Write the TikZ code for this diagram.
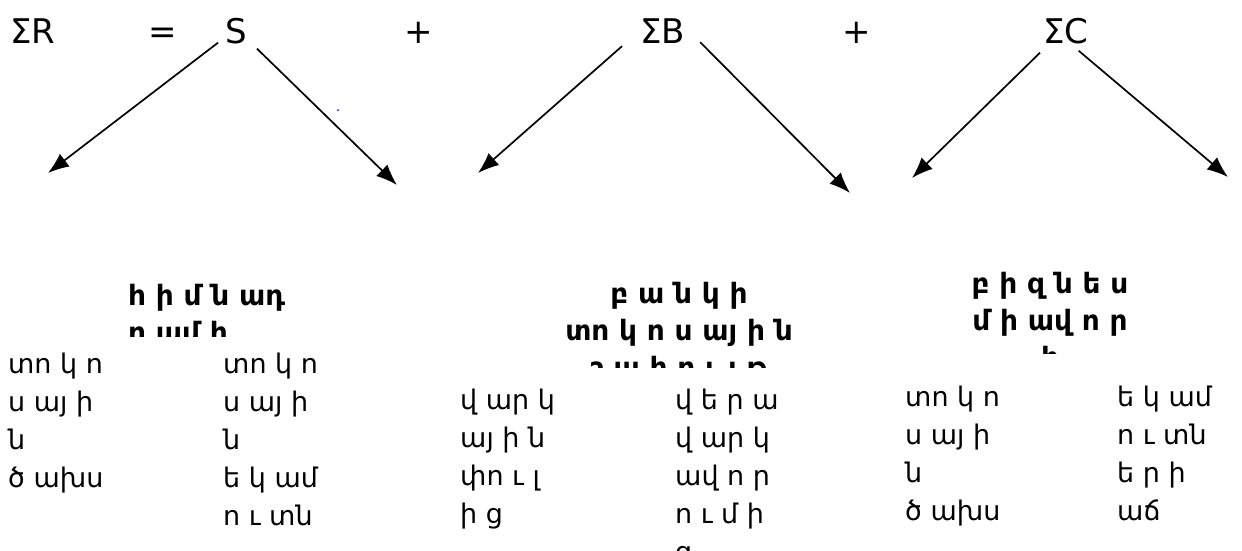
\documentclass[tikz,border=0pt]{standalone}
\usepackage{fontspec}
\setmainfont{DejaVu Sans}
\usetikzlibrary{arrows.meta}
\tikzset{
    sum/.style={font=\fontsize{34}{40}\selectfont, inner sep=0pt, anchor=base west},
    arr/.style={line width=1.7pt, -{Latex[length=21pt,width=16pt]}},
    word/.style={font=\fontsize{27}{38}\selectfont, inner sep=0pt, anchor=base west},
    head/.style={font=\bfseries\fontsize{28}{37}\selectfont, inner sep=0pt, anchor=base}
}
% stacked lines whose first baseline is the node's base
\newcommand{\leftlines}[1]{\vtop{\halign{##\hfil\cr#1\crcr}}}
\newcommand{\midlines}[1]{\vtop{\halign{\hfil##\hfil\cr#1\crcr}}}

\begin{document}
\begin{tikzpicture}[x=1pt,y=-1pt]
\useasboundingbox (0,0) rectangle (1242,550);

\node[sum] (sumR) at (10,43) {ΣR};
\node[sum] (eq) at (148,43) {=};
\node[sum] (S) at (225,43) {S};
\node[sum] (plusA) at (404,43) {+};
\node[sum] (sumB) at (640,43) {ΣB};
\node[sum] (plusB) at (842,43) {+};
\node[sum] (sumC) at (1043,43) {ΣC};

\coordinate (sL) at (48,173);
\coordinate (sR) at (397,185);
\coordinate (bL) at (478,173);
\coordinate (bR) at (850,193);
\coordinate (cL) at (912,178);
\coordinate (cR) at (1228,177);

\draw[arr] ([shift={(-7,-1)}]S.south west) -- (sL);
\draw[arr] ([shift={(10,5)}]S.south east) -- (sR);
\draw[arr] ([shift={(-18,3)}]sumB.south west) -- (bL);
\draw[arr] ([shift={(15,-1)}]sumB.south east) -- (bR);
\draw[arr] ([shift={(-3,9)}]sumC.south west) -- (cL);
\draw[arr] ([shift={(-10,7)}]sumC.south east) -- (cR);

\fill[blue] (338,110) circle (1);

% headings, cut off below
\begin{scope}
    \clip (90,260) rectangle (340,336);
    \node[head, anchor=base west] (sHead) at (128,305) {\leftlines{հ ի մ ն ադ\cr ր ամ ի}};
\end{scope}
\begin{scope}
    \clip (520,260) rectangle (840,367);
    \node[head] (bHead) at (679,303) {\midlines{բ ա ն կ ի\cr տո կ ո ս այ ի ն\cr շ ա հ ո ւ յ թ}};
\end{scope}
\begin{scope}
    \clip (940,250) rectangle (1170,353);
    \node[head] (cHead) at (1050,293) {\midlines{բ ի զ ն ե ս\cr մ ի ավ ո ր\cr ի}};
\end{scope}

\node[word] (sExp) at (8,373) {\leftlines{տո կ ո\cr ս այ ի\cr ն\cr ծ ախս}};
\node[word] (sInc) at (223,373) {\leftlines{տո կ ո\cr ս այ ի\cr ն\cr ե կ ամ\cr ո ւ տն}};
\node[word] (bLoan) at (460,409) {\leftlines{վ ար կ\cr այ ի ն\cr փո ւ լ\cr ի ց}};
\node[word] (bRev) at (675,409) {\leftlines{վ ե ր ա\cr վ ար կ\cr ավ ո ր\cr ո ւ մ ի\cr ց}};
\node[word] (cExp) at (905,406) {\leftlines{տո կ ո\cr ս այ ի\cr ն\cr ծ ախս}};
\node[word] (cInc) at (1117,406) {\leftlines{ե կ ամ\cr ո ւ տն\cr ե ր ի\cr աճ}};
\end{tikzpicture}
\end{document}
